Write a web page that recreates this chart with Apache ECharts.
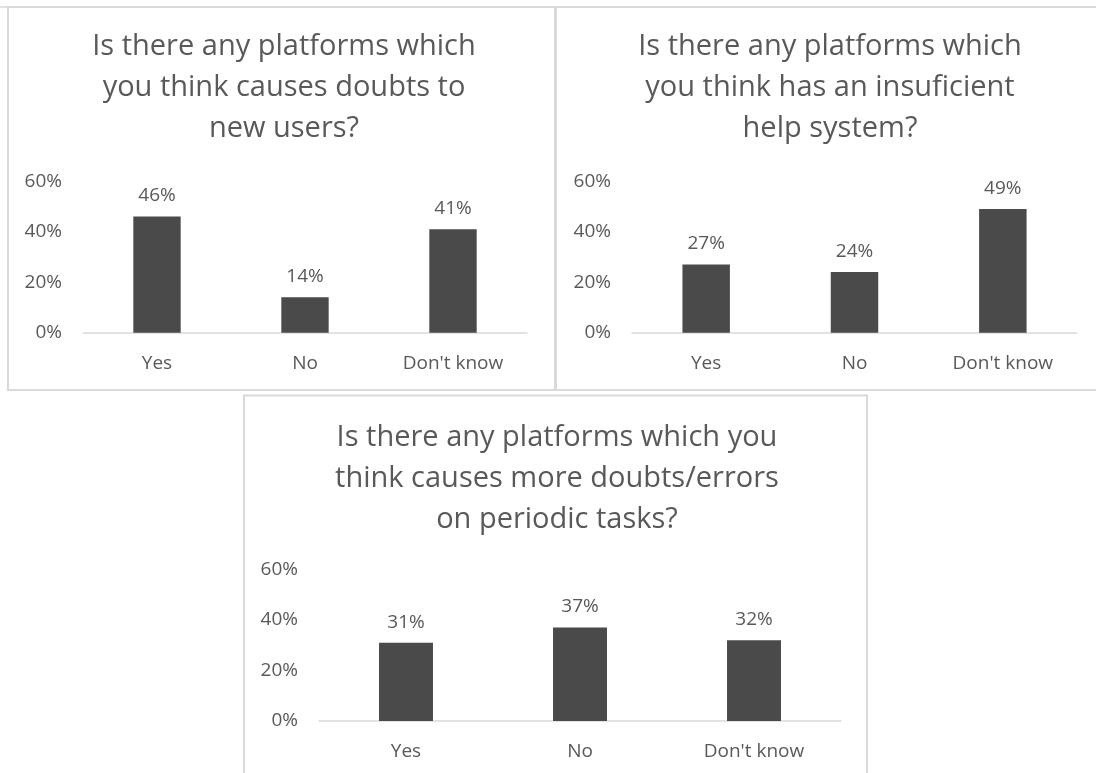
<!DOCTYPE html>
<html>
<head>
<meta charset="utf-8">
<script src="https://cdn.jsdelivr.net/npm/echarts@6/dist/echarts.min.js"></script>
<style>
  html, body { margin: 0; padding: 0; background: #ffffff; }
  #chart { width: 1096px; height: 773px; }
</style>
</head>
<body>
<div id="chart"></div>
<script>
// Survey answers (percent of respondents)
const categories = ["Yes", "No", "Don't know"];
const newUserDoubts = [46, 14, 41];
const helpSystem = [27, 24, 49];
const periodicTasks = [31, 37, 32];

const titles = [
  "Is there any platforms which\nyou think causes doubts to\nnew users?",
  "Is there any platforms which\nyou think has an insuficient\nhelp system?",
  "Is there any platforms which you\nthink causes more doubts/errors\non periodic tasks?"
];

const FONT = "'Open Sans', 'Liberation Sans', sans-serif";
const TEXT = '#595959';
const BAR = '#4a4a4a';
const EDGE = '#d9d9d9';

const grids = [
  { left: 83, top: 181.2, width: 444, height: 151.5 },
  { left: 632, top: 181.2, width: 445, height: 151.5 },
  { left: 319, top: 569.5, width: 522, height: 151.5 }
];

const seriesData = [newUserDoubts, helpSystem, periodicTasks];
const barWidths = ['32%', '32%', '31%'];

const chart = echarts.init(document.getElementById('chart'), null, { renderer: 'canvas' });

const option = {
  animation: false,
  backgroundColor: '#ffffff',
  graphic: [
    { type: 'line', shape: { x1: 0, y1: 7, x2: 1096, y2: 7 }, style: { stroke: EDGE, lineWidth: 1.5 } },
    { type: 'rect', shape: { x: 8, y: 7, width: 547, height: 383 }, style: { fill: 'none', stroke: EDGE, lineWidth: 2 } },
    { type: 'rect', shape: { x: 556, y: 7, width: 560, height: 383 }, style: { fill: 'none', stroke: EDGE, lineWidth: 2 } },
    { type: 'rect', shape: { x: 244, y: 395.5, width: 623, height: 400 }, style: { fill: 'none', stroke: EDGE, lineWidth: 2 } }
  ],
  title: [
    { left: 279, top: 21, textAlign: 'center', text: titles[0] },
    { left: 825, top: 21, textAlign: 'center', text: titles[1] },
    { left: 552, top: 412.5, textAlign: 'center', text: titles[2] }
  ].map(t => Object.assign(t, {
    textStyle: { fontFamily: FONT, fontSize: 29, fontWeight: 'normal', color: TEXT, lineHeight: 41 }
  })),
  grid: grids,
  xAxis: grids.map((g, i) => ({
    type: 'category',
    gridIndex: i,
    data: categories,
    axisLine: { show: true, lineStyle: { color: EDGE, width: 1.5 } },
    axisTick: { show: false },
    axisLabel: { color: TEXT, fontFamily: FONT, fontSize: 19, margin: 21 }
  })),
  yAxis: grids.map((g, i) => ({
    type: 'value',
    gridIndex: i,
    min: 0,
    max: 60,
    interval: 20,
    axisLine: { show: false },
    axisTick: { show: false },
    splitLine: { show: false },
    axisLabel: { color: TEXT, fontFamily: FONT, fontSize: 19, margin: 21, formatter: '{value}%' }
  })),
  series: seriesData.map((d, i) => ({
    type: 'bar',
    xAxisIndex: i,
    yAxisIndex: i,
    data: d,
    barWidth: barWidths[i],
    itemStyle: { color: BAR },
    label: {
      show: true,
      position: 'top',
      distance: 11,
      color: TEXT,
      fontFamily: FONT,
      fontSize: 19,
      formatter: '{c}%'
    }
  }))
};

chart.setOption(option);
</script>
</body>
</html>
